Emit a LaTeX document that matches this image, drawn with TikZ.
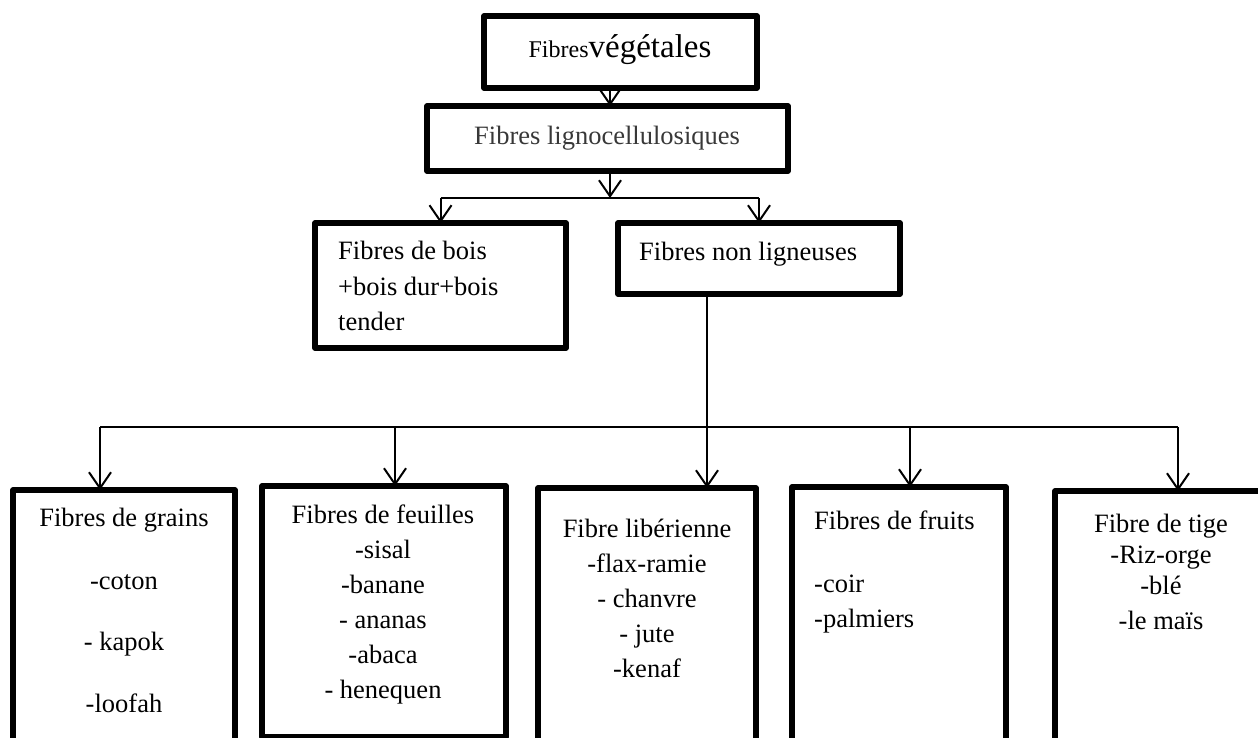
\documentclass[tikz,border=0pt]{standalone}
\usepackage{fontspec}
\setmainfont{Liberation Serif}
\usetikzlibrary{arrows.meta,calc}
\begin{document}
\begin{tikzpicture}[x=1pt,y=-1pt,
 box/.style={draw, line width=5.5pt, line join=round, anchor=north west, inner sep=0pt, outer sep=0pt, rectangle},
 txt/.style={font=\fontsize{26.5}{35}\selectfont, inner sep=0pt},
 hl/.style={line width=1.4pt},
 arr/.style={line width=2pt, -{Straight Barb[length=16pt,width=22pt]}}]
\useasboundingbox (0,0) rectangle (1258,738);
% upper boxes
\node[box, minimum width=273pt, minimum height=72pt] (veg) at (484,16) {};
\node[anchor=base, inner sep=0pt] (vegt) at (620,58) {\fontsize{24}{28}\selectfont Fibres\fontsize{33}{38}\selectfont végétales};
\node[box, minimum width=361pt, minimum height=65pt] (ligno) at (427,106) {};
\node[txt, anchor=base west, text=black!78] (lignot) at (474,145) {Fibres lignocellulosiques};
\node[box, minimum width=251pt, minimum height=125pt] (bois) at (315,223) {};
\node[txt, anchor=base west, align=left] (boist) at (338,330) {Fibres de bois\\[1pt]+bois dur+bois\\tender};
\node[box, minimum width=282pt, minimum height=71pt] (nonlig) at (618,223) {};
\node[txt, anchor=base west] (nonligt) at (639,260) {Fibres non ligneuses};
% lower boxes
\node[box, minimum width=222pt, minimum height=262pt] (b1) at (13,490) {};
\node[txt, anchor=base, align=center] (b1t) at (124,712) {Fibres de grains\\[28pt]-coton\\[26pt]- kapok\\[27pt]-loofah};
\node[box, minimum width=244pt, minimum height=251pt] (b2) at (262,486) {};
\node[txt, anchor=base, align=center] (b2t) at (383,698) {Fibres de feuilles\\-sisal\\-banane\\- ananas\\-abaca\\- henequen};
\node[box, minimum width=218pt, minimum height=262pt] (b3) at (538,488) {};
\node[txt, anchor=base, align=center] (b3t) at (647,677) {Fibre libérienne\\-flax-ramie\\- chanvre\\- jute\\-kenaf};
\node[box, minimum width=214pt, minimum height=263pt] (b4) at (792,487) {};
\node[txt, anchor=base west, align=left] (b4t) at (814,627) {Fibres de fruits\\[28pt]-coir\\-palmiers};
\node[box, minimum width=240pt, minimum height=260pt] (b5) at (1055,491) {};
\node[txt, anchor=base, align=center, font=\fontsize{26.5}{31}\selectfont] (b5t) at (1161,629) {Fibre de tige\\-Riz-orge\\-blé\\[4pt]-le maïs};
% connectors
\coordinate (c0) at (610,0 |- veg.south);
\draw[arr] (c0) -- (c0 |- ligno.north);
\coordinate (c1) at (610,0 |- ligno.south);
\coordinate (j1) at (610,198);
\draw[arr] (c1) -- (j1);
\coordinate (j1L) at (bois.north |- j1);
\coordinate (j1R) at (nonlig.north |- j1);
\draw[hl] (j1L) -- (j1R);
\draw[arr] (j1L) -- (bois.north);
\draw[arr] (j1R) -- (nonlig.north);
\coordinate (c2) at (707,0 |- nonlig.south);
\draw[arr] (c2) -- (c2 |- b3.north);
\coordinate (h1) at (100,427);
\coordinate (h2) at (395,427);
\coordinate (h4) at (910,427);
\coordinate (h5) at (1178,427);
\draw[hl] (h1) -- (h5);
\draw[arr] (h1) -- (h1 |- b1.north);
\draw[arr] (h2) -- (h2 |- b2.north);
\draw[arr] (h4) -- (h4 |- b4.north);
\draw[arr] (h5) -- (h5 |- b5.north);
\end{tikzpicture}
\end{document}
